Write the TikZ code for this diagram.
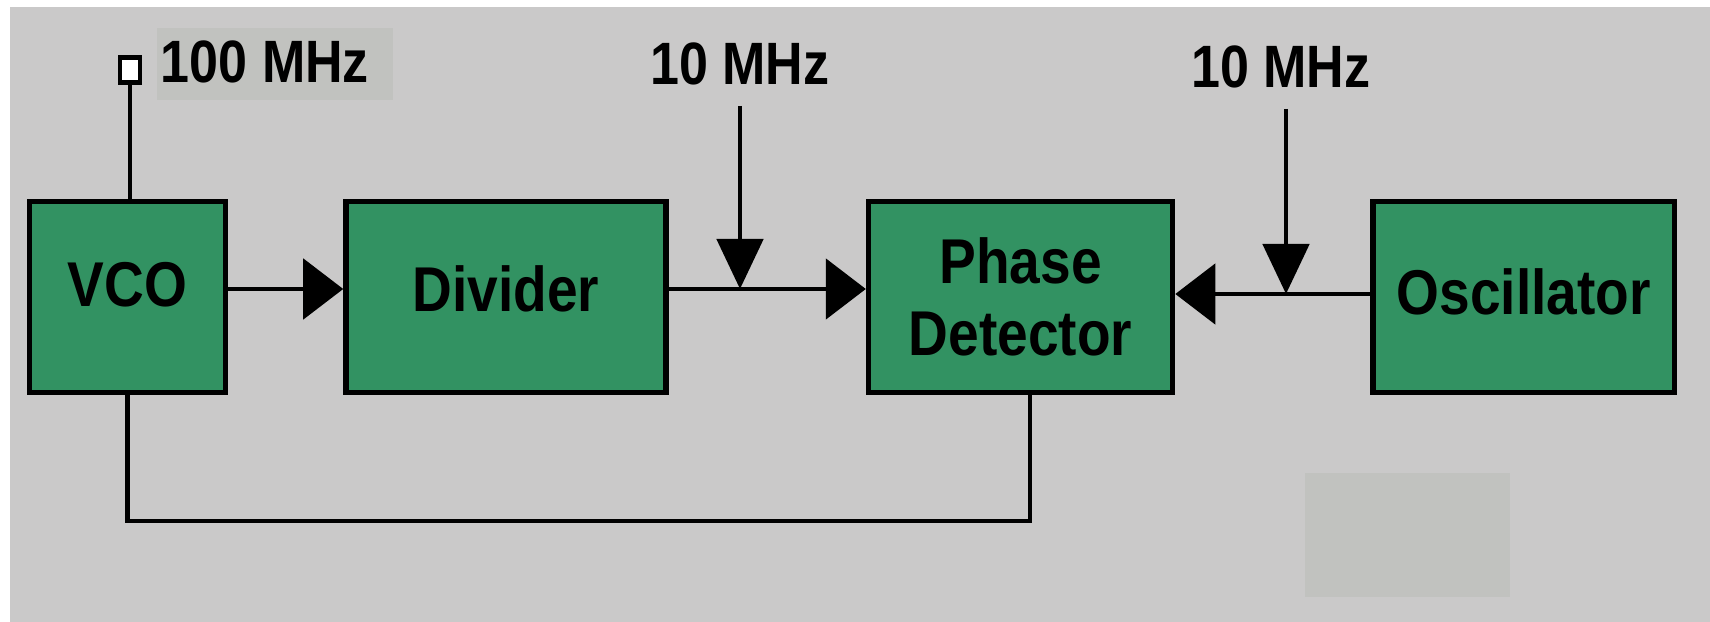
\documentclass[tikz,border=0pt]{standalone}
\usepackage{fontspec}
\setmainfont[FakeStretch=0.87]{Liberation Sans}
\usepackage{tikz}
\usetikzlibrary{arrows.meta,positioning}

\definecolor{panelgray}{RGB}{202,201,201}
\definecolor{patchgray}{RGB}{193,194,191}
\definecolor{blockgreen}{RGB}{50,146,98}

\begin{document}
\begin{tikzpicture}[
  x=0.01cm, y=-0.01cm,
  box/.style={draw, line width=1.5pt, fill=blockgreen, minimum height=1.91cm,
              font=\fontsize{18}{20.5}\selectfont\bfseries, align=center},
  data/.style={font=\fontsize{17}{18}\selectfont\bfseries, inner sep=0.2cm},
  wire/.style={line width=1.4pt},
  arr/.style={wire, -{Triangle[length=0.4cm,width=0.6cm]}},
  darr/.style={wire, -{Triangle[length=0.5cm,width=0.46cm]}}
]
\useasboundingbox (0,0) rectangle (1710,622);
\fill[panelgray] (10,7) rectangle (1710,622);
\fill[patchgray] (157,28) rectangle (393,100);
\fill[patchgray] (1305,473) rectangle (1510,597);

\node[box, minimum width=1.96cm, text depth=0.26cm] (vco) at (127.5,297) {VCO};
\node[box, minimum width=3.20cm, text depth=0.16cm, right=1.15cm of vco] (div) {Divider};
\node[box, minimum width=3.04cm, right=1.97cm of div] (pd) {Phase\\Detector};
\node[box, minimum width=3.01cm, text depth=0.10cm, right=1.95cm of pd] (osc) {Oscillator};

\node[draw, fill=white, line width=1.2pt, minimum width=0.2cm, minimum height=0.25cm,
      inner sep=0pt] (term) at (130,70) {};
\node[data] (fout) at (265,62) {100 MHz};
\node[data] (f1) at (740,64) {10 MHz};
\node[data] (f2) at (1281,67) {10 MHz};

\coordinate (j1) at (740,289);
\coordinate (j2) at (1286,294);
\coordinate (fb) at (1030,521);

\draw[wire] (term.south) -- (term.south |- vco.north);
\draw[arr] (vco.east |- j1) -- (div.west |- j1);
\draw[arr] (div.east |- j1) -- (pd.west |- j1);
\draw[arr] (osc.west |- j2) -- (pd.east |- j2);
\draw[darr] (f1) -- (j1);
\draw[darr] (f2.south -| j2) -- (j2);
\draw[wire] (vco.south) |- (fb) -- (fb |- pd.south);
\end{tikzpicture}
\end{document}
